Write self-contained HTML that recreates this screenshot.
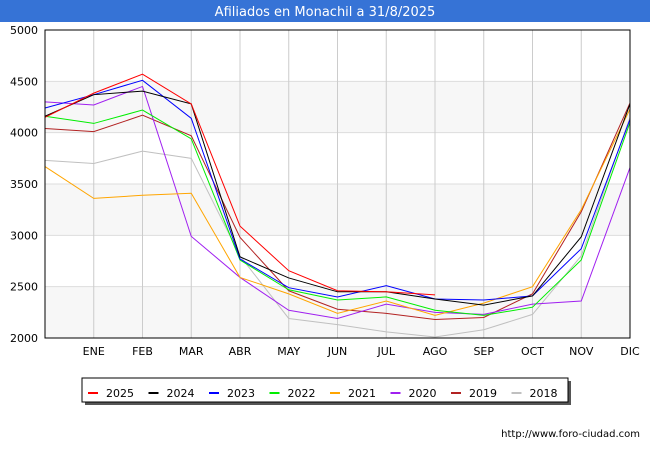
<!DOCTYPE html>
<html><head><meta charset="utf-8"><style>
body{margin:0;width:650px;height:450px;background:#fff;font-family:"Liberation Sans","DejaVu Sans",sans-serif;overflow:hidden}
</style></head><body>
<svg id="chart" width="650" height="450" xmlns="http://www.w3.org/2000/svg" font-family="DejaVu Sans, Liberation Sans, sans-serif">
<rect x="0" y="0" width="650" height="22" fill="#3673d6"/>
<text x="325" y="16" text-anchor="middle" font-size="13" fill="#fff">Afiliados en Monachil a 31/8/2025</text>
<g id="bands"></g><g id="grid"></g><g id="series"></g><g id="axes"></g>
<g>
<rect x="85" y="381" width="486" height="24" fill="#555"/>
<rect x="82" y="378" width="486" height="24" fill="#fff" stroke="#000" stroke-width="1"/>
<g id="legend-items"></g>
</g>
<text x="640" y="437" text-anchor="end" font-size="10" fill="#000">http://www.foro-ciudad.com</text>
</svg>
<script>
const months=["","ENE","FEB","MAR","ABR","MAY","JUN","JUL","AGO","SEP","OCT","NOV","DIC"];
const yTicks=[2000,2500,3000,3500,4000,4500,5000];
const years=["2025","2024","2023","2022","2021","2020","2019","2018"];
const colors=["#ff0000","#000000","#0000ff","#00ee00","#ffa500","#a020f0","#b22222","#c0c0c0"];
const s2025=[4150,4385,4570,4280,3090,2655,2460,2450,2420];
const s2024=[4160,4370,4405,4280,2790,2585,2450,2450,2380,2320,2410,2985,4280];
const s2023=[4240,4370,4510,4140,2770,2490,2400,2510,2380,2370,2410,2870,4130];
const s2022=[4160,4090,4220,3940,2760,2470,2370,2400,2270,2220,2300,2760,4100];
const s2021=[3670,3360,3390,3410,2590,2430,2240,2360,2220,2340,2500,3250,4230];
const s2020=[4300,4270,4450,2990,2590,2270,2190,2330,2250,2230,2330,2360,3660];
const s2019=[4040,4010,4170,3970,2980,2460,2280,2240,2180,2200,2430,3230,4290];
const s2018=[3730,3700,3820,3750,2800,2190,2130,2060,2010,2080,2230,2800,4150];
const allSeries=[s2025,s2024,s2023,s2022,s2021,s2020,s2019,s2018];
const L=45,R=630,T=30,B=338,ymin=2000,ymax=5000;
const xs=i=>L+i*(R-L)/12;
const ys=v=>B-(v-ymin)/(ymax-ymin)*(B-T);
const NS="http://www.w3.org/2000/svg";
function mk(tag,attrs,parent){const e=document.createElementNS(NS,tag);for(const k in attrs)e.setAttribute(k,attrs[k]);parent.appendChild(e);return e;}
const bands=document.getElementById('bands'),grid=document.getElementById('grid'),axes=document.getElementById('axes'),ser=document.getElementById('series'),leg=document.getElementById('legend-items');
for(let i=0;i<yTicks.length-1;i+=2){const r=mk('rect',{x:L,y:ys(yTicks[i+1]),width:R-L,height:ys(yTicks[i])-ys(yTicks[i+1]),fill:'#f7f7f7'},bands);

}
yTicks.forEach(v=>{const l=mk('line',{x1:L,x2:R,y1:ys(v),y2:ys(v),stroke:'#dddddd'},grid);


const t=mk('text',{x:38,y:ys(v)+4,'text-anchor':'end','font-size':11,fill:'#000'},axes);t.textContent=v;

});
months.forEach((m,i)=>{if(i>0){const l=mk('line',{x1:xs(i),x2:xs(i),y1:T,y2:B,stroke:'#cccccc'},grid);


const t=mk('text',{x:xs(i),y:355,'text-anchor':'middle','font-size':11,fill:'#000'},axes);t.textContent=m;

}});
const fr=mk('rect',{x:L,y:T,width:R-L,height:B-T,fill:'none',stroke:'#000','stroke-width':1},axes);


for(let k=allSeries.length-1;k>=0;k--){const d=allSeries[k].map((v,i)=>xs(i)+','+ys(v)).join(' ');
const p=mk('polyline',{points:d,fill:'none',stroke:colors[k],'stroke-width':1},ser);

}
years.forEach((y,k)=>{const x0=88+k*60.5;
const g=mk('g',{},leg);


mk('line',{x1:x0,x2:x0+10,y1:393,y2:393,stroke:colors[k],'stroke-width':2},g);
const t=mk('text',{x:x0+18,y:397,'font-size':11,fill:'#000'},g);t.textContent=y;});
</script>
</body></html>
